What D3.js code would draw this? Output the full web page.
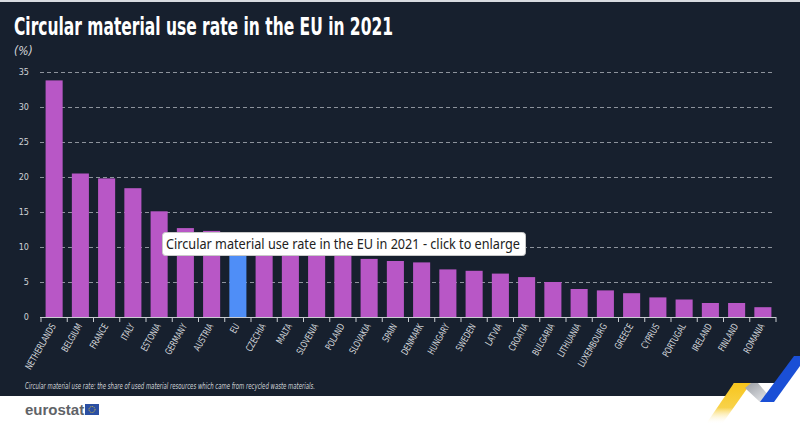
<!DOCTYPE html>
<html>
<head>
<meta charset="utf-8">
<script src="https://cdn.jsdelivr.net/npm/d3@7"></script>
<style>
  html, body { margin: 0; padding: 0; background: #fff; }
  svg { display: block; }
</style>
</head>
<body>
<div id="chart"></div>
<script>
// data
const countries = ["NETHERLANDS", "BELGIUM", "FRANCE", "ITALY", "ESTONIA", "GERMANY", "AUSTRIA", "EU",
  "CZECHIA", "MALTA", "SLOVENIA", "POLAND", "SLOVAKIA", "SPAIN", "DENMARK", "HUNGARY", "SWEDEN",
  "LATVIA", "CROATIA", "BULGARIA", "LITHUANIA", "LUXEMBOURG", "GREECE", "CYPRUS", "PORTUGAL",
  "IRELAND", "FINLAND", "ROMANIA"];
const rates = [33.8, 20.5, 19.8, 18.4, 15.1, 12.7, 12.3, 11.7,
  10.3, 10.0, 9.9, 9.1, 8.3, 8.0, 7.8, 6.8, 6.6,
  6.2, 5.7, 5.0, 4.0, 3.8, 3.4, 2.8, 2.5,
  2.0, 2.0, 1.4];
const yTicks = [0, 5, 10, 15, 20, 25, 30, 35];

const width = 800, height = 435;
const bg = "#17202e";
const condensed = "'DejaVu Sans Condensed', 'Liberation Sans', sans-serif";

const svg = d3.select("#chart").append("svg")
  .attr("width", width)
  .attr("height", height);

// dark panel + thin light strip on top
svg.append("rect").attr("x", 0).attr("y", 0).attr("width", width).attr("height", 396).attr("fill", bg);
svg.append("rect").attr("x", 0).attr("y", 0).attr("width", width).attr("height", 2).attr("fill", "#d8dbe0");

const x = d3.scaleBand().domain(countries).range([41, 776]).paddingInner(0.35).paddingOuter(0.175);
const y = d3.scaleLinear().domain([0, 35]).range([317, 72]);

// title (squeezed to the condensed look of the original)
svg.append("text")
  .attr("x", 14).attr("y", 35)
  .attr("fill", "#fff")
  .attr("textLength", 379)
  .attr("lengthAdjust", "spacingAndGlyphs")
  .style("font-family", condensed)
  .style("font-weight", "bold")
  .style("font-size", "24px")
  .text("Circular material use rate in the EU in 2021");

svg.append("text")
  .attr("x", 14).attr("y", 55)
  .attr("fill", "#d6d8dc")
  .style("font-family", condensed)
  .style("font-style", "italic")
  .style("font-size", "12px")
  .text("(%)");

// grid
svg.append("g").selectAll("line")
  .data(yTicks.filter(d => d > 0))
  .join("line")
  .attr("x1", 40).attr("x2", 774)
  .attr("y1", d => y(d) + 0.5).attr("y2", d => y(d) + 0.5)
  .attr("stroke", "#8d939c")
  .attr("stroke-width", 1)
  .attr("stroke-dasharray", "4,3");

// y labels
svg.append("g").selectAll("text")
  .data(yTicks)
  .join("text")
  .attr("x", 29).attr("y", d => y(d) + 3)
  .attr("text-anchor", "end")
  .attr("fill", "#cfd2d6")
  .style("font-family", condensed)
  .style("font-size", "9px")
  .text(d => d);

// bars
svg.append("g").selectAll("rect")
  .data(countries)
  .join("rect")
  .attr("x", d => x(d))
  .attr("width", x.bandwidth())
  .attr("y", (d, i) => y(rates[i]))
  .attr("height", (d, i) => y(0) - y(rates[i]))
  .attr("fill", d => d === "EU" ? "#4f8ef7" : "#b857c6");

// x axis
const xAxis = svg.append("g")
  .attr("transform", "translate(0," + y(0) + ")")
  .call(d3.axisBottom(x).tickSize(0).tickFormat(""));
xAxis.select(".domain").attr("stroke", "#c9ccd1").attr("d", "M40,0.5H776");
const step = x.step();
xAxis.append("g").selectAll("line")
  .data(d3.range(countries.length + 1))
  .join("line")
  .attr("x1", i => 41 + i * step).attr("x2", i => 41 + i * step)
  .attr("y1", 0).attr("y2", 5)
  .attr("stroke", "#c9ccd1");

svg.append("g").selectAll("text")
  .data(countries)
  .join("text")
  .attr("transform", d => "translate(" + (x(d) + x.bandwidth() / 2 + 2) + ",326) rotate(-60) scale(0.8,1)")
  .attr("text-anchor", "end")
  .attr("fill", "#d3d6da")
  .style("font-family", condensed)
  .style("font-size", "9.5px")
  .text(d => d);

// footnote
svg.append("text")
  .attr("x", 25).attr("y", 389)
  .attr("fill", "#d0d3d7")
  .attr("textLength", 290)
  .attr("lengthAdjust", "spacingAndGlyphs")
  .style("font-family", condensed)
  .style("font-style", "italic")
  .style("font-size", "8.5px")
  .text("Circular material use rate: the share of used material resources which came from recycled waste materials.");

// corner ribbons
const defs = svg.append("defs");
const gy = defs.append("linearGradient").attr("id", "gy").attr("x1", 0).attr("y1", 0).attr("x2", 0).attr("y2", 1);
gy.append("stop").attr("offset", "0").attr("stop-color", "#f7c51c");
gy.append("stop").attr("offset", "0.6").attr("stop-color", "#f8d24a");
gy.append("stop").attr("offset", "1").attr("stop-color", "#fff").attr("stop-opacity", 0);
const gg = defs.append("linearGradient").attr("id", "gg").attr("x1", 0).attr("y1", 0).attr("x2", 1).attr("y2", 1);
gg.append("stop").attr("offset", "0").attr("stop-color", "#9a9ea5");
gg.append("stop").attr("offset", "1").attr("stop-color", "#f0f1f3");

svg.append("polygon").attr("points", "728,396 734,383 800,383 800,396").attr("fill", "#fff");
svg.append("polygon").attr("points", "766,402 800,356 800,402").attr("fill", "#fff");
svg.append("polygon").attr("points", "734,383 751,383 722,424 706,424").attr("fill", "url(#gy)");
svg.append("polygon").attr("points", "751,383 758,383 774,402 760,402 745,388").attr("fill", "url(#gg)");
svg.append("polygon").attr("points", "760,402 774,402 800,366 800,356 794,356").attr("fill", "#1a4fd6");

// eurostat logo
svg.append("text")
  .attr("x", 25).attr("y", 415)
  .attr("fill", "#5f6368")
  .style("font-family", "'Liberation Sans', Arial, sans-serif")
  .style("font-weight", "bold")
  .style("font-size", "15px")
  .text("eurostat");
svg.append("rect").attr("x", 85).attr("y", 404).attr("width", 14).attr("height", 11).attr("fill", "#2b4fa3");
svg.append("circle").attr("cx", 92).attr("cy", 409.5).attr("r", 3)
  .attr("fill", "none").attr("stroke", "#e9c93a").attr("stroke-width", 1).attr("stroke-dasharray", "1,1");

// browser tooltip overlay
svg.append("rect")
  .attr("x", 162.5).attr("y", 232.5).attr("width", 363).attr("height", 23).attr("rx", 3)
  .attr("fill", "#fff").attr("stroke", "#c8c8c8");
svg.append("text")
  .attr("x", 166).attr("y", 249)
  .attr("fill", "#222")
  .attr("textLength", 354)
  .attr("lengthAdjust", "spacingAndGlyphs")
  .style("font-family", "'Noto Sans', 'Open Sans', sans-serif")
  .style("font-size", "14px")
  .text("Circular material use rate in the EU in 2021 - click to enlarge");
</script>
</body>
</html>
